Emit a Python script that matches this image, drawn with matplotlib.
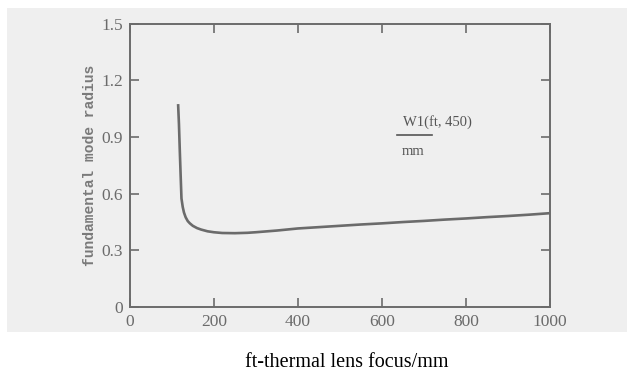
import matplotlib
matplotlib.use("Agg")
import matplotlib.pyplot as plt
from matplotlib.patches import Rectangle

# thermal lens focal length (mm) and fundamental mode radius W1(ft, 450) (mm)
focus_mm = [115, 117, 119, 121, 123, 126, 129, 133, 138, 143, 150, 160, 170,
            185, 200, 220, 250, 280, 300, 350, 400, 450, 500, 550, 600, 650,
            700, 750, 800, 850, 900, 950, 1000]
radius_mm = [1.075, 0.97, 0.83, 0.70, 0.575, 0.53, 0.50, 0.475, 0.455, 0.443,
             0.43, 0.418, 0.410, 0.401, 0.396, 0.392, 0.391, 0.393, 0.396,
             0.405, 0.416, 0.423, 0.430, 0.437, 0.443, 0.450, 0.456, 0.463,
             0.469, 0.476, 0.482, 0.489, 0.497]

x_ticks = [0, 200, 400, 600, 800, 1000]
y_ticks = [0, 0.3, 0.6, 0.9, 1.2, 1.5]
y_tick_labels = ["0", "0.3", "0.6", "0.9", "1.2", "1.5"]

ink = "#6b6b6b"
paper = "#efefef"

fig = plt.figure(figsize=(6.3, 3.73), dpi=100)
fig.patch.set_facecolor("white")

# scanned page area behind the plot
page = Rectangle((0.011, 0.110), 0.984, 0.869, transform=fig.transFigure,
                 facecolor=paper, edgecolor="none", zorder=-10)
fig.add_artist(page)

ax = fig.add_axes([0.206, 0.177, 0.667, 0.759])
ax.set_zorder(1)
ax.set_facecolor(paper)
ax.plot(focus_mm, radius_mm, color=ink, lw=1.9, solid_capstyle="butt")

ax.set_xlim(0, 1000)
ax.set_ylim(0, 1.5)
ax.set_xticks(x_ticks)
ax.set_xticklabels([str(v) for v in x_ticks])
ax.set_yticks(y_ticks)
ax.set_yticklabels(y_tick_labels)

for s in ax.spines.values():
    s.set_color(ink)
    s.set_linewidth(1.4)

ax.tick_params(direction="in", length=6.5, width=1.2, color=ink,
               top=True, right=True, labelcolor=ink, labelsize=12.5, pad=5)
for lbl in ax.get_xticklabels() + ax.get_yticklabels():
    lbl.set_family("Liberation Serif")

ax.set_ylabel("fundamental mode radius", family="Liberation Mono",
              weight="bold", fontsize=10.5, color="#7a7a7a", labelpad=3)

# quantity label with fraction bar
ax.text(0.731, 0.654, "W1(ft, 450)", transform=ax.transAxes,
        family="Liberation Serif", fontsize=10.5, color="#555555",
        ha="center", va="center")
ax.plot([0.636, 0.719], [0.608, 0.608], transform=ax.transAxes,
        color="#555555", lw=1.2)
ax.text(0.674, 0.548, "mm", transform=ax.transAxes,
        family="Liberation Serif", fontsize=10.5, color="#555555",
        ha="center", va="center")

fig.text(0.551, 0.027, "ft-thermal lens focus/mm", family="Liberation Serif",
         fontsize=14.5, color="black", ha="center", va="center")

fig.savefig("out.png", dpi=100, facecolor=fig.get_facecolor())
